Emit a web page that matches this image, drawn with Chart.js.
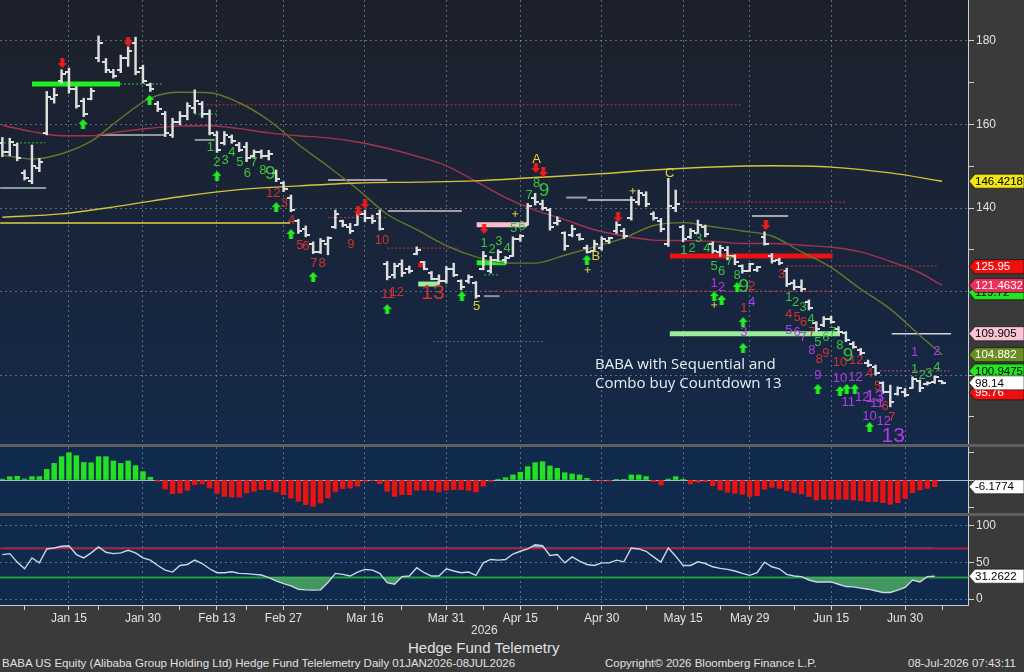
<!DOCTYPE html>
<html>
<head>
<meta charset="utf-8">
<script src="https://cdn.jsdelivr.net/npm/chart.js@4.4.1/dist/chart.umd.min.js"></script>
<style>
  body { margin: 0; width: 1024px; height: 672px; overflow: hidden; position: relative; background: #3a3a3a;
         font-family: "Liberation Sans", Arial, sans-serif; color: #e0e0e0; }
  canvas { position: absolute; left: 0; }
  .sep { position: absolute; left: 0; width: 1024px; height: 3px; background: #5e5e5e; }
  .txt { position: absolute; white-space: nowrap; }
</style>
</head>
<body>
<canvas id="mainChart" width="1024" height="444" style="top:0"></canvas>
<div class="sep" style="top:444px"></div>
<canvas id="histChart" width="1024" height="66" style="top:447px"></canvas>
<div class="sep" style="top:513px"></div>
<canvas id="rsiChart" width="1024" height="111" style="top:516px"></canvas>

<div class="txt" style="left:595px;top:354px;font-family:'Open Sans',sans-serif;font-size:15px;line-height:19px;color:#e8eef5">BABA with Sequential and<br>Combo buy Countdown 13</div>
<div class="txt" style="left:471px;top:623px;font-size:12px">2026</div>
<div class="txt" style="left:408px;top:639px;font-size:15px">Hedge Fund Telemetry</div>
<div class="txt" style="left:2px;top:657px;font-size:11.5px">BABA US Equity (Alibaba Group Holding Ltd) Hedge Fund Telelemetry Daily 01JAN2026-08JUL2026</div>
<div class="txt" style="left:605px;top:657px;font-size:11.5px">Copyright© 2026 Bloomberg Finance L.P.</div>
<div class="txt" style="left:908px;top:657px;font-size:11.5px">08-Jul-2026 07:43:11</div>

<script>
// ---------- data (x = trading day index, 0 = first bar in January) ----------
const majorIdx = [9, 19, 29, 38, 49, 60, 70, 81, 92, 101, 112, 122];
const majorLabels = ['Jan 15', 'Jan 30', 'Feb 13', 'Feb 27', 'Mar 16', 'Mar 31', 'Apr 15', 'Apr 30', 'May 15', 'May 29', 'Jun 15', 'Jun 30'];
const minorIdx = [3, 13, 24, 33, 44, 54, 65, 75, 87, 97, 107, 116, 127];

const high = [156.9,156.7,155.5,149.1,155.1,151.9,167.9,168.7,173.1,173.5, 169.1,166.3,168.7,181.2,175.8,173.2,176.6,178.6,180.9,174.2,
  169.9,165.5,163.1,161.5,163.1,165.2,168.3,165.5,163.5,158.3, 158.3,157.5,155.7,155.7,153.9,153.9,153.8,149.1,146.3,143.1,
  137.3,135.7,131.9,132.7,133.1,139.5,137.1,136.3,139.1,139.5, 138.3,139.5,127.2,126.8,127.6,126.1,130.7,127.2,124.8,124.0,
  126.0,126.8,122.8,124.0,122.4,129.6,128.4,130.0,128.4,133.1, 133.6,141.1,143.5,141.9,139.9,137.9,134.3,135.9,133.9,131.1,
  132.3,133.1,133.0,136.7,135.1,142.7,144.3,143.9,139.1,137.5, 147.1,144.3,135.9,135.1,137.1,135.9,131.9,131.1,130.8,128.8,
  126.4,126.8,126.0,134.3,129.1,128.0,125.6,122.8,122.8,118.0, 112.8,114.0,114.1,111.6,110.4,108.0,106.4,103.6,102.4,98.4,
  97.6,97.2,96.8,99.6,98.8,98.4,99.8,98.6];
const low = [152.3,152.5,151.3,146.7,145.8,148.7,157.5,165.1,169.9,167.5, 163.9,161.9,165.9,175.0,172.4,171.1,172.4,173.9,171.9,169.9,
  167.9,163.1,157.1,156.9,159.9,161.1,162.7,161.7,157.5,153.3, 155.1,155.5,153.5,151.1,151.9,151.9,151.5,146.3,143.9,139.1,
  133.9,133.1,129.1,129.1,128.8,135.1,135.5,133.9,135.9,136.7, 136.3,134.7,122.8,123.2,123.6,124.4,128.8,125.2,122.8,122.0,
  122.0,123.6,120.4,122.0,118.4,125.2,124.4,127.2,126.8,128.4, 132.0,135.9,140.7,139.5,134.7,135.9,129.9,133.1,132.3,129.2,
  129.6,129.9,131.5,133.9,132.7,137.1,140.7,140.3,137.1,134.3, 130.8,139.1,131.9,132.7,133.9,133.1,129.2,128.4,127.6,126.4,
  124.4,124.8,124.8,131.1,126.8,126.4,121.2,120.4,120.0,115.6, 110.4,111.6,112.4,110.0,108.0,106.4,104.8,102.0,100.0,95.6,
  92.4,95.2,94.8,96.8,96.0,97.6,98.0,97.9];
const open = [155.5,153.5,155.0,148.5,146.5,149.5,158.0,166.0,170.5,172.5, 168.5,165.5,166.0,176.0,175.0,172.5,173.0,176.0,179.5,173.5,
  169.5,165.0,162.5,157.5,160.5,162.0,164.0,165.0,162.5,157.5, 155.5,157.0,155.0,154.5,152.5,153.5,152.5,148.5,146.0,142.5,
  137.0,135.0,131.5,129.5,131.5,135.5,137.0,135.5,136.0,138.5, 137.5,138.5,126.5,124.0,126.5,125.5,129.0,127.0,124.5,123.0,
  122.5,125.5,122.5,122.5,122.0,125.5,125.0,127.5,127.5,128.5, 132.5,136.0,142.5,141.0,139.5,136.5,134.0,133.5,133.5,130.5,
  129.8,130.5,132.0,134.5,134.5,137.5,141.5,143.0,138.5,137.0, 131.5,140.0,135.5,133.0,134.0,135.5,131.5,129.5,130.0,128.5,
  126.0,125.0,125.2,133.0,128.5,127.5,125.0,122.0,121.0,117.5, 112.5,112.0,113.5,111.0,110.0,107.5,106.0,103.0,102.0,98.0,
  96.0,95.5,96.0,97.0,98.5,97.8,98.3,98.5];
const close = [153.5,155.8,152.0,147.2,150.0,151.0,166.5,167.0,172.0,168.5, 164.5,162.5,168.0,179.5,173.0,171.5,176.0,177.5,172.5,170.5,
  168.5,163.8,158.0,160.5,162.0,164.5,165.5,162.5,158.0,154.0, 157.5,156.0,154.0,152.0,153.5,152.5,153.0,147.0,144.5,139.5,
  134.5,133.5,129.5,132.0,132.8,138.5,136.0,134.5,138.5,137.5, 137.0,135.0,123.5,126.0,124.5,125.0,130.0,125.5,123.0,122.5,
  125.5,124.0,121.0,123.5,119.0,128.5,127.5,129.5,128.0,132.5, 133.2,140.5,141.5,140.0,135.5,137.0,131.0,135.0,132.5,129.5,
  131.5,132.5,132.8,136.0,133.2,142.0,143.5,141.0,137.5,135.0, 140.5,141.0,132.5,134.5,136.0,133.8,129.8,130.5,128.5,127.0,
  125.0,126.5,125.8,131.5,127.2,126.8,121.8,121.0,120.5,116.0, 111.0,113.5,112.8,110.3,108.5,106.8,105.2,102.3,100.5,96.0,
  93.5,96.8,95.3,99.0,97.0,98.2,99.5,98.14];

// moving averages, read at sampled days
const slowIdx = [0, 8, 16, 24, 32, 40, 48, 56, 64, 72, 80, 88, 96, 104, 112, 120, 127];
const maSlow = [137.8, 138.6, 140.5, 142.7, 144.4, 145.3, 146.0, 146.2, 146.5, 147.3, 148.1, 149.1, 149.8, 150.1, 149.8, 148.4, 146.4];
const maIdx = [0, 4, 8, 12, 16, 20, 24, 28, 32, 36, 40, 44, 48, 52, 56, 60, 64, 68, 72, 76, 80, 84, 88, 92, 96, 100, 104, 108, 112, 116, 120, 124, 127];
const maMid = [159.8, 158.3, 157.3, 157.3, 158.3, 159.1, 159.6, 159.7, 159.0, 158.0, 157.3, 156.8, 155.8, 154.3, 152.4, 150.1, 146.4,
  142.5, 139.5, 137.2, 134.8, 133.3, 132.3, 132.2, 132.0, 131.5, 131.5, 131.1, 130.6, 129.5, 127.2, 124.5, 121.46];
const maFast = [152.7, 151.7, 153.0, 156.0, 161.5, 166.3, 167.7, 167.6, 165.2, 161.0, 155.2, 150.0, 144.5, 138.5, 134.8, 131.0, 128.3,
  126.8, 126.8, 128.7, 130.7, 132.8, 135.8, 136.5, 135.5, 134.5, 133.3, 129.5, 125.8, 120.6, 115.8, 109.5, 104.88];

// TDST / setup levels: from day, to day, price, kind
const levelFrom  = [4.0, 15.9, -0.3, -0.3, 12.9, 26.0, 26.0, 27.6, -0.3, 44.0, 44.0, 52.1, 52.0, 56.2, 56.2, 58.2, 64.1, 64.1, 65.1, 65.1, 65.1, 76.2, 79.1, 92.0, 101.3, 90.2, 106.0, 90.2, 120.2, 118.6];
const levelTo    = [15.9, 21.7, 5.8, 5.9, 22.0, 28.7, 29.0, 100.0, 38.9, 52.0, 52.0, 62.1, 61.8, 59.1, 57.1, 73.1, 70.9, 68.1, 67.2, 112.1, 67.2, 79.0, 85.2, 114.1, 106.2, 112.2, 126.3, 113.2, 128.2, 128.0];
const levelPrice = [169.7, 169.7, 155.6, 144.8, 157.5, 156.3, 162.5, 164.7, 136.4, 146.7, 137.7, 139.3, 130.4, 121.8, 126.4, 108.0, 136.0, 126.9, 124.0, 120.1, 118.9, 142.5, 141.9, 141.4, 138.1, 128.5, 126.1, 109.9, 109.9, 101.0];
const levelKind  = ['buyBar', 'buyDot', 'buyDot', 'gray', 'gray', 'gray', 'buyDot', 'redDot', 'yellow', 'mauve', 'redDot', 'mauve', 'redDot', 'paleBar', 'sellBar',
  'purpleDot', 'pinkBar', 'buyBar', 'buyDot', 'redDot', 'gray', 'mauve', 'silver', 'redDot', 'silver', 'sellBar', 'redDot', 'paleBar', 'silver', 'magentaDot'];

// sequential / combo counts: day, price, text, kind
const tdLabels = [
  [28.1,154.6,'1','g'],[29.0,150.8,'2','g'],[30.1,151.5,'3','g'],[31.0,153.4,'4','g'],[32.1,151.0,'5','g'],[33.1,148.4,'6','g'],
  [34.0,150.8,'7','g'],[35.2,148.9,'8','g'],[36.2,148.2,'9','G'],
  [36.6,143.6,'12','r'],[38.1,141.2,'3','r'],[39.1,137.1,'4','r'],[40.2,131.1,'5','r'],[41.0,130.7,'6','r'],[42.1,126.8,'7','r'],
  [43.2,126.8,'8','r'],[47.1,131.4,'9','r'],[51.3,132.3,'10','r'],[52.1,119.2,'11','r'],[53.3,119.9,'12','r'],[58.2,119.7,'13','R'],
  [64.1,116.5,'5','y'],
  [65.1,131.6,'1','g'],[66.2,130.0,'2','g'],[67.1,131.9,'3','g'],[68.2,130.4,'4','g'],[69.1,135.2,'5','g'],[70.2,135.5,'6','g'],
  [71.2,143.1,'7','g'],[72.2,146.0,'8','g'],[73.2,144.1,'9','G'],
  [72.2,151.7,'A','y'],[80.2,128.5,'B','y'],[90.2,148.4,'C','y'],
  [92.1,129.9,'1','g'],[93.2,130.4,'2','g'],[94.1,132.8,'3','g'],[95.2,130.4,'4','g'],[96.2,125.9,'5','g'],[97.2,124.7,'6','g'],
  [98.2,127.1,'7','g'],[99.3,123.9,'8','g'],[100.2,121.1,'9','G'],
  [96.2,122.0,'1','p'],[97.2,121.1,'2','p'],[101.3,121.3,'2','r'],[100.2,116.0,'1','r'],[101.3,117.5,'4','p'],[100.2,110.1,'3','p'],
  [105.3,124.0,'3','r'],
  [106.3,118.5,'1','g'],[107.2,117.5,'2','g'],[108.2,116.3,'3','g'],[109.3,113.4,'4','g'],
  [106.3,114.6,'4','r'],[107.4,113.9,'5','r'],[108.3,112.5,'6','r'],
  [106.3,110.8,'5','p'],[107.4,110.1,'6','p'],[108.2,108.9,'7','p'],[109.4,110.1,'7','r'],
  [110.2,107.7,'5','g'],[111.3,108.9,'6','g'],[112.2,110.3,'7','g'],
  [109.4,105.8,'8','p'],[110.4,103.8,'8','r'],[111.3,105.3,'9','r'],
  [113.2,107.0,'8','g'],[114.3,104.6,'9','G'],
  [113.2,103.1,'10','r'],[115.4,103.4,'12','r'],[117.2,100.3,'4','r'],
  [110.2,100.0,'9','p'],[113.2,99.3,'10','p'],[115.3,99.4,'12','p'],
  [114.3,93.5,'11','p'],[116.2,94.7,'12','p'],[117.9,94.7,'13','M'],
  [118.3,97.4,'5','r'],[118.2,93.3,'11','p'],[119.3,92.6,'6','r'],
  [117.2,90.2,'10','p'],[119.1,88.8,'12','p'],[120.2,89.9,'7','r'],[120.4,85.4,'13','P'],
  [123.3,105.5,'1','p'],[126.3,105.6,'2','p'],[123.3,101.4,'1','g'],[124.3,100.0,'2','g'],[125.2,100.5,'3','g'],[126.3,101.9,'4','g']
];

const upArrows = [[10.9,160.1],[19.9,165.9],[29.0,147.7],[37.0,140.2],[39.0,133.8],[42.0,123.5],[52.0,115.8],[62.1,118.9],[79.0,127.6],
  [96.2,118.9],[97.2,118.0],[99.3,121.1],[100.1,112.7],[100.1,106.5],[110.2,96.7],[113.2,96.2],[114.1,96.7],[115.2,96.7],[117.2,87.6]];
const downArrows = [[8.1,174.7],[17.0,179.8],[48.1,139.3],[49.0,141.0],[65.1,135.0],[72.1,149.6],[73.1,148.6],[83.2,137.8],[103.2,135.9]];
const crosses = [[69.3,138.6],[79.1,125.2],[85.2,144.1],[96.2,116.8]];

// last values shown on the price axis
const priceTags = [146.4218, 125.95, 119.72, 121.4632, 109.905, 104.882, 100.9475, 95.76, 98.14];
const priceTagKind = ['yellow', 'red', 'green', 'crimson', 'pink', 'olive', 'green', 'red', 'white'];

// oscillator histogram and RSI
const hist = [0.8,3.0,3.4,0.9,3.1,3.1,9.8,15.3,21.5,25.1, 22.4,16.2,15.9,21.5,21.5,17.5,15.3,17.5,13.2,7.7,
  2.5,-1.2,-8.3,-12.6,-12.0,-9.5,-4.3,-3.7,-7.4,-12.0, -15.1,-15.7,-15.7,-12.0,-10.4,-8.9,-8.9,-11.0,-13.5,-16.6,
  -19.6,-22.7,-24.2,-21.2,-16.6,-11.0,-8.0,-7.4,-5.8,-1.2, -0.6,-3.4,-10.4,-15.1,-13.5,-13.5,-9.5,-9.5,-9.5,-11.0,
  -9.5,-8.9,-8.9,-9.5,-11.0,-5.8,-1.2,0.2,2.1,4.6, 7.1,12.3,16.0,16.9,12.9,10.7,6.7,5.5,4.6,1.5,
  -0.6,-0.9,-0.9,0.2,0.3,4.6,4.6,3.1,-1.5,-4.6, 0.9,3.1,0.2,-3.7,-2.1,-1.5,-5.2,-9.2,-11.3,-12.3,
  -13.2,-15.3,-14.4,-8.6,-6.7,-7.7,-9.8,-11.7,-12.9,-15.3, -18.4,-17.8,-17.8,-17.8,-17.8,-18.4,-19.0,-19.9,-19.9,-20.9,
  -22.4,-20.9,-16.9,-11.7,-9.2,-7.7,-6.1774];
const rsi = [60.8,62.1,50.5,41.4,56.3,49.5,68.5,69.8,72.1,73.0, 60.8,56.3,63.1,71.2,64.0,62.1,63.1,66.7,63.1,56.3,
  53.2,45.9,39.6,36.9,45.9,47.3,53.2,48.6,41.4,36.0, 36.0,37.4,35.1,34.7,33.8,32.9,29.3,24.8,21.2,18.0,
  13.5,12.6,12.2,12.6,22.5,35.1,33.8,31.5,36.9,40.5, 39.6,35.1,22.5,20.3,30.6,31.5,42.8,36.0,31.5,31.5,
  41.4,38.3,36.0,36.9,32.4,49.5,54.1,53.2,54.1,61.5, 65.3,68.5,74.3,72.9,59.5,60.8,49.5,57.6,51.8,47.3,
  45.9,49.5,49.5,53.2,50.9,69.8,68.5,65.3,57.6,50.5, 69.8,58.6,45.9,45.9,50.9,48.6,44.1,41.9,40.5,38.3,
  35.1,32.4,36.0,50.5,44.1,41.4,33.8,31.5,30.6,26.1, 23.4,23.4,23.4,20.3,17.1,16.7,14.9,13.5,11.3,9.0,
  9.0,12.2,15.8,26.1,23.4,30.6,31.2622];
const rsiLevels = [70, 30];

// ---------- styles ----------
const FONT = '"Liberation Sans", Arial, sans-serif';
const GRID = 'rgba(150,165,190,0.55)';
const AXIS = '#cfcfcf';
const TEXT = '#e2e2e2';
const BAR = '#dedede';
const X_MIN = -0.32, X_MAX = 130.5;

const levelStyle = {
  buyBar: ['#22ee22', 5, []], buyDot: ['#22cc22', 1, [2, 2]], gray: ['#8a9a98', 2, []], mauve: ['#a898a8', 2, []],
  silver: ['#d4d4dc', 1.5, []], redDot: ['#c8303c', 1, [2, 2]], sellBar: ['#ee1111', 5, []], paleBar: ['#99ee99', 5, []],
  pinkBar: ['#f8c0cc', 5, []], purpleDot: ['#9040d0', 1, [2, 2]], magentaDot: ['#d84080', 1, [2, 2]], yellow: ['#e0d040', 1.5, []]
};
const labelStyle = {
  g: ['#3cc43c', 13], G: ['#3cc43c', 19], r: ['#d23232', 13], R: ['#d23232', 21], p: ['#b43ce6', 13], M: ['#b43ce6', 17],
  P: ['#b43ce6', 21], y: ['#e0d040', 13]
};
const tagStyle = {
  yellow: ['#f2e41c', '#000'], red: ['#ee1010', '#fff'], green: ['#22e622', '#000'], crimson: ['#e8305a', '#fff'],
  pink: ['#f8c4d2', '#000'], olive: ['#6b8e23', '#fff'], white: ['#ffffff', '#000']
};

Chart.defaults.font.family = FONT;

function iconCanvas(w, h, draw) {
  const c = document.createElement('canvas');
  c.width = w; c.height = h;
  draw(c.getContext('2d'));
  return c;
}
const openTick = iconCanvas(8, 2, g => { g.fillStyle = BAR; g.fillRect(0, 0, 4, 2); });
const closeTick = iconCanvas(8, 2, g => { g.fillStyle = BAR; g.fillRect(4, 0, 4, 2); });
const upIcon = iconCanvas(9, 10, g => {
  g.fillStyle = '#22ee22'; g.beginPath();
  g.moveTo(4.5, 0); g.lineTo(9, 5); g.lineTo(6.5, 5); g.lineTo(6.5, 10); g.lineTo(2.5, 10); g.lineTo(2.5, 5); g.lineTo(0, 5);
  g.closePath(); g.fill();
});
const downIcon = iconCanvas(9, 10, g => {
  g.fillStyle = '#ee1c1c'; g.beginPath();
  g.moveTo(4.5, 10); g.lineTo(9, 5); g.lineTo(6.5, 5); g.lineTo(6.5, 0); g.lineTo(2.5, 0); g.lineTo(2.5, 5); g.lineTo(0, 5);
  g.closePath(); g.fill();
});

// ---------- plugins ----------
const panelBg = {
  id: 'panelBg',
  beforeDraw(chart, args, opts) {
    const { ctx, chartArea: a, width, height } = chart;
    ctx.save();
    ctx.fillStyle = '#3a3a3a';
    ctx.fillRect(0, 0, width, height);
    let fill = opts.color;
    if (opts.gradient) {
      fill = ctx.createLinearGradient(0, a.top, 0, a.bottom);
      fill.addColorStop(0, opts.gradient[0]);
      fill.addColorStop(1, opts.gradient[1]);
    }
    ctx.fillStyle = fill;
    ctx.fillRect(a.left, a.top, a.right - a.left, a.bottom - a.top);
    ctx.restore();
  }
};

const refLines = {
  id: 'refLines',
  beforeDatasetsDraw(chart, args, opts) {
    const { ctx, chartArea: a, scales: { y } } = chart;
    ctx.save();
    (opts.lines || []).forEach(l => {
      const py = Math.round(y.getPixelForValue(l.value)) + 0.5;
      ctx.strokeStyle = l.color;
      ctx.lineWidth = l.width || 1;
      ctx.beginPath(); ctx.moveTo(a.left, py); ctx.lineTo(a.right, py); ctx.stroke();
    });
    ctx.restore();
  }
};

const countLabels = {
  id: 'countLabels',
  afterDatasetsDraw(chart, args, opts) {
    const { ctx, scales: { x, y } } = chart;
    ctx.save();
    ctx.textAlign = 'center';
    ctx.textBaseline = 'middle';
    (opts.items || []).forEach(([i, p, txt, kind]) => {
      const [col, size] = labelStyle[kind];
      ctx.font = size + 'px ' + FONT;
      ctx.fillStyle = col;
      ctx.fillText(txt, x.getPixelForValue(i), y.getPixelForValue(p));
    });
    ctx.restore();
  }
};

const valueTags = {
  id: 'valueTags',
  afterDraw(chart, args, opts) {
    const { ctx, chartArea: a, scales: { y } } = chart;
    ctx.save();
    ctx.font = '11.5px ' + FONT;
    ctx.textBaseline = 'middle';
    (opts.values || []).forEach((v, k) => {
      const [bg, fg] = tagStyle[opts.kinds[k]];
      const py = y.getPixelForValue(v);
      const x0 = a.right + 1;
      ctx.beginPath();
      ctx.moveTo(x0, py);
      ctx.lineTo(x0 + 6, py - 7);
      ctx.lineTo(chart.width, py - 7);
      ctx.lineTo(chart.width, py + 7);
      ctx.lineTo(x0 + 6, py + 7);
      ctx.closePath();
      ctx.fillStyle = bg;
      ctx.fill();
      ctx.strokeStyle = 'rgba(0,0,0,0.55)';
      ctx.lineWidth = 1;
      ctx.stroke();
      ctx.fillStyle = fg;
      ctx.fillText(String(v), x0 + 6, py + 0.5);
    });
    ctx.restore();
  }
};

// ---------- axes ----------
const allXTicks = majorIdx.concat(minorIdx).sort((a, b) => a - b);

function xAxis(showTicks) {
  return {
    type: 'linear', min: X_MIN, max: X_MAX, bounds: 'data', offset: false,
    afterBuildTicks: s => { s.ticks = allXTicks.map(v => ({ value: v })); },
    afterFit: s => { s.height = showTicks ? 22 : 0; s.paddingLeft = 0; s.paddingRight = 0; },
    grid: {
      color: c => (c.tick && majorIdx.includes(c.tick.value)) ? GRID : 'rgba(0,0,0,0)',
      drawTicks: showTicks, tickLength: 5, tickColor: AXIS, tickBorderDash: [], offset: false
    },
    border: { display: showTicks, color: AXIS, dash: [2, 3] },
    ticks: {
      display: showTicks, autoSkip: false, maxRotation: 0, padding: 1, color: TEXT, font: { size: 12 },
      callback: v => { const k = majorIdx.indexOf(v); return k >= 0 ? majorLabels[k] : ''; }
    }
  };
}

function yAxis(min, max, tickVals, labelled, gridVals) {
  return {
    type: 'linear', position: 'right', min: min, max: max, bounds: 'data',
    afterBuildTicks: s => { s.ticks = tickVals.map(v => ({ value: v })); },
    afterFit: s => { s.width = 56; s.paddingTop = 0; s.paddingBottom = 0; },
    grid: {
      color: c => (c.tick && gridVals.includes(c.tick.value)) ? GRID : 'rgba(0,0,0,0)',
      tickLength: 6, tickColor: AXIS, tickBorderDash: []
    },
    border: { color: AXIS, dash: [2, 3] },
    ticks: { autoSkip: false, padding: 2, color: TEXT, font: { size: 12 }, callback: v => labelled.includes(v) ? String(v) : '' }
  };
}

const baseOptions = {
  responsive: false, animation: false, events: [],
  layout: { padding: 0, autoPadding: false },
  plugins: { legend: { display: false }, tooltip: { enabled: false } }
};

// ---------- price panel ----------
const pts = (xs, ys) => xs.map((x, k) => ({ x: x, y: ys[k] }));

const levelSets = levelPrice.map((p, k) => {
  const [col, w, dash] = levelStyle[levelKind[k]];
  return {
    type: 'line', order: 5, data: [{ x: levelFrom[k], y: p }, { x: levelTo[k], y: p }],
    borderColor: col, borderWidth: w, borderDash: dash, borderCapStyle: 'butt', pointRadius: 0
  };
});

const maLine = (xs, ys, col) => ({
  type: 'line', order: 3, data: pts(xs, ys), borderColor: col, borderWidth: 1.4,
  pointRadius: 0, cubicInterpolationMode: 'monotone'
});

const dayIdx = high.map((h, i) => i);

new Chart(document.getElementById('mainChart'), {
  type: 'line',
  data: {
    datasets: [
      ...levelSets,
      maLine(slowIdx, maSlow, '#d4c43a'),
      maLine(maIdx, maMid, '#a8324e'),
      maLine(maIdx, maFast, '#66772a'),
      { type: 'bar', order: 2, data: dayIdx.map(i => ({ x: i, y: [low[i], high[i]] })), backgroundColor: BAR,
        barThickness: 1.8, grouped: false },
      { type: 'line', order: 1, showLine: false, data: pts(dayIdx, open), pointStyle: openTick, pointRadius: 2 },
      { type: 'line', order: 1, showLine: false, data: pts(dayIdx, close), pointStyle: closeTick, pointRadius: 2 },
      { type: 'line', order: 0, showLine: false, data: upArrows.map(([x, y]) => ({ x, y })), pointStyle: upIcon, pointRadius: 4 },
      { type: 'line', order: 0, showLine: false, data: downArrows.map(([x, y]) => ({ x, y })), pointStyle: downIcon, pointRadius: 4 },
      { type: 'line', order: 0, showLine: false, data: crosses.map(([x, y]) => ({ x, y })), pointStyle: 'cross',
        pointRadius: 3, pointBorderColor: '#e0d040', pointBorderWidth: 1 }
    ]
  },
  options: {
    ...baseOptions,
    scales: {
      x: xAxis(false),
      y: yAxis(83.5, 189.8, [90, 100, 110, 120, 130, 140, 150, 160, 170, 180], [140, 160, 180], [100, 120, 140, 160, 180])
    },
    plugins: {
      ...baseOptions.plugins,
      panelBg: { gradient: ['#1d2029', '#142949'] },
      countLabels: { items: tdLabels },
      valueTags: { values: priceTags, kinds: priceTagKind }
    }
  },
  plugins: [panelBg, countLabels, valueTags]
});

// ---------- histogram panel ----------
new Chart(document.getElementById('histChart'), {
  type: 'line',
  data: {
    datasets: [{
      type: 'bar', data: pts(hist.map((v, i) => i), hist),
      backgroundColor: hist.map(v => v >= 0 ? '#22e022' : '#e41414'),
      barThickness: 4.8, grouped: false
    }]
  },
  options: {
    ...baseOptions,
    scales: { x: xAxis(false), y: yAxis(-30.4, 30.4, [-25, 0, 25], [], []) },
    plugins: {
      ...baseOptions.plugins,
      panelBg: { color: '#0f2a4d' },
      refLines: { lines: [{ value: 0, color: '#aeb8c4' }] },
      valueTags: { values: [hist[hist.length - 1]], kinds: ['white'] }
    }
  },
  plugins: [panelBg, refLines, valueTags]
});

// ---------- RSI panel ----------
const rsiPts = pts(rsi.map((v, i) => i), rsi);
new Chart(document.getElementById('rsiChart'), {
  type: 'line',
  data: {
    datasets: [
      { data: rsiPts, order: 0, borderColor: '#ccd6e6', borderWidth: 1.4, pointRadius: 0, tension: 0,
        fill: { target: { value: rsiLevels[1] }, above: 'rgba(0,0,0,0)', below: 'rgba(76,176,100,0.82)' } },
      { data: rsiPts, order: 1, borderWidth: 0, pointRadius: 0, tension: 0,
        fill: { target: { value: rsiLevels[0] }, above: 'rgba(200,196,205,0.75)', below: 'rgba(0,0,0,0)' } }
    ]
  },
  options: {
    ...baseOptions,
    scales: { x: xAxis(true), y: yAxis(-8.1, 113.5, [0, 50, 100], [0, 50, 100], [0, 50, 100]) },
    plugins: {
      ...baseOptions.plugins,
      panelBg: { color: '#0f2a4d' },
      refLines: { lines: [{ value: rsiLevels[0], color: '#a4203e', width: 2 }, { value: rsiLevels[1], color: '#1e9e3c', width: 2 }] },
      valueTags: { values: [rsi[rsi.length - 1]], kinds: ['white'] }
    }
  },
  plugins: [panelBg, refLines, valueTags]
});
</script>
</body>
</html>
